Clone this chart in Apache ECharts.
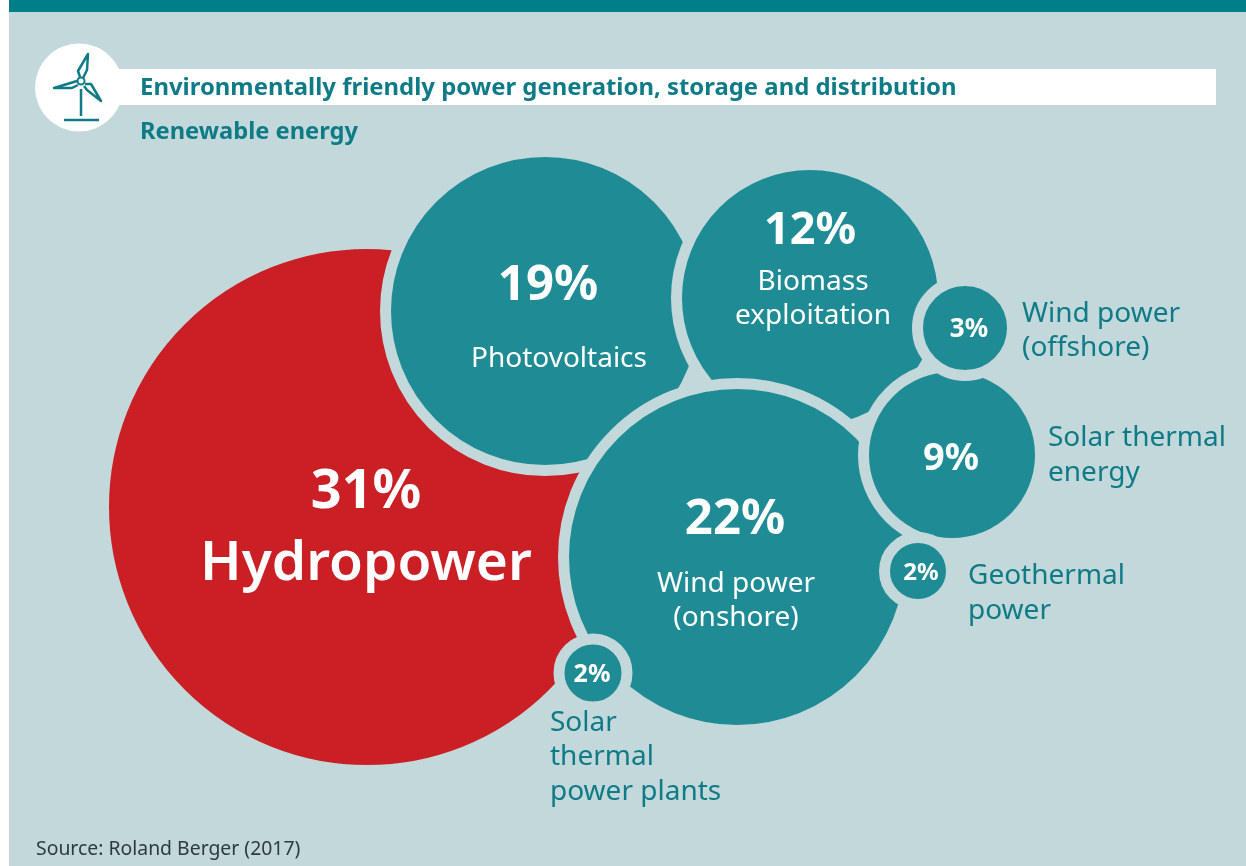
<!DOCTYPE html>
<html><head><meta charset="utf-8">
<style>html,body{margin:0;padding:0;background:#fff}#c{width:1246px;height:866px}</style>
<script src="https://cdn.jsdelivr.net/npm/echarts@6/dist/echarts.min.js"></script>
</head><body><div id="c"></div>
<script>
// ---- data ----
const names = ['Hydropower','Photovoltaics','Biomass exploitation','Wind power (onshore)','Solar thermal energy','Wind power (offshore)','Geothermal power','Solar thermal power plants'];
const shares = [31,19,12,22,9,3,2,2];
const bubbleX = [367,545,810,737,952,965,918,593];
const bubbleY = [507,311,298,557,455,328,571,673];
const bubbleRadius = [258,154,128,168,83,42,28,28.5];
const title = 'Environmentally friendly power generation, storage and distribution';
const subtitle = 'Renewable energy';
const source = 'Source: Roland Berger (2017)';
// ---- text annotations: [x, y, text, kind] ----
const shareTextX = [366,548,810,735,951,969,921,592];
const shareTextY = [493,286,231,520,459,330,573,675];
const nameLines = [
 [366,564,'Hydropower','hero'],
 [559,359,'Photovoltaics','in'],
 [813,282,'Biomass','in'],
 [813,316,'exploitation','in'],
 [736,584,'Wind power','in'],
 [736,618,'(onshore)','in'],
 [1022,314,'Wind power','out'],
 [1022,348,'(offshore)','out'],
 [1048,438,'Solar thermal','out'],
 [1048,473,'energy','out'],
 [968,576,'Geothermal','out'],
 [968,611,'power','out'],
 [550,723,'Solar','out'],
 [550,757,'thermal','out'],
 [550,792,'power plants','out']
];
const RED='#cb1f26', TEAL='#1f8c95', INK='#0f7b87', PANEL='#c3d8da', BAND='#007f8b';
const FONT='"Noto Sans"';
const GAP=11;
const shareSize=[54,49,45,49,38,26,24,25];

const kinds={
 hero:{color:'#fff',fontSize:55,fontWeight:600,align:'center'},
 in:{color:'#fff',fontSize:28,fontWeight:400,align:'center'},
 out:{color:INK,fontSize:28,fontWeight:400,align:'left'}
};
const chart=echarts.init(document.getElementById('c'),null,{renderer:'canvas'});
const teal=INK;
chart.setOption({
 animation:false,
 backgroundColor:'#fff',
 grid:{left:0,right:0,top:0,bottom:0},
 xAxis:{type:'value',min:0,max:1246,show:false},
 yAxis:{type:'value',min:0,max:866,inverse:true,show:false},
 tooltip:{show:false},
 graphic:[
  {type:'rect',z:0,silent:true,shape:{x:9,y:0,width:1237,height:866},style:{fill:PANEL}},
  {type:'rect',z:0,silent:true,shape:{x:9,y:0,width:1237,height:12},style:{fill:BAND}},
  {type:'rect',z:0,silent:true,shape:{x:80,y:69,width:1136,height:36},style:{fill:'#fff'}},
  {type:'circle',z:0,silent:true,shape:{cx:79,cy:87.5,r:44},style:{fill:'#fff'}},
  {type:'group',z:1,silent:true,children:[
   {type:'polyline',shape:{points:[[80,77],[78,71],[88,54],[87,70],[83,78]]},style:{fill:null,stroke:teal,lineWidth:2.5,lineJoin:'round'}},
   {type:'polyline',shape:{points:[[77,81],[54,88],[72,88],[78,85]]},style:{fill:null,stroke:teal,lineWidth:2.5,lineJoin:'round'}},
   {type:'polyline',shape:{points:[[85,84],[91,84],[101,101],[87,90],[84,86]]},style:{fill:null,stroke:teal,lineWidth:2.5,lineJoin:'round'}},
   {type:'circle',shape:{cx:81,cy:81,r:3.5},style:{fill:'#fff',stroke:teal,lineWidth:2}},
   {type:'line',shape:{x1:81,y1:89,x2:81,y2:116},style:{stroke:teal,lineWidth:2.5}},
   {type:'line',shape:{x1:64,y1:120,x2:99,y2:120},style:{stroke:teal,lineWidth:2.5}}
  ]},
  {type:'text',z:3,silent:true,x:140,y:88,style:{text:title,font:'700 23.9px '+FONT,fill:INK,verticalAlign:'middle'}},
  {type:'text',z:3,silent:true,x:140,y:132,style:{text:subtitle,font:'700 23.7px '+FONT,fill:INK,verticalAlign:'middle'}},
  {type:'text',z:3,silent:true,x:36,y:849,style:{text:source,font:'400 19.4px '+FONT,fill:'#2d3a40',verticalAlign:'middle'}}
 ],
 series:[
  {type:'scatter',name:'Renewable energy',silent:true,z:2,
   data:names.map((n,i)=>({name:n,value:[bubbleX[i],bubbleY[i],shares[i]],
     symbolSize:2*bubbleRadius[i]+GAP,
     itemStyle:{color:i===0?RED:TEAL,borderColor:PANEL,borderWidth:GAP,opacity:1}}))},
  {type:'scatter',name:'shares',silent:true,z:3,symbolSize:1,itemStyle:{color:'transparent',opacity:1},
   data:shares.map((s,i)=>({value:[shareTextX[i],shareTextY[i]],
     label:{show:true,opacity:1,position:'inside',formatter:s+'%',color:'#fff',fontFamily:FONT,fontWeight:700,fontSize:shareSize[i],align:'center',verticalAlign:'middle'}}))},
  {type:'scatter',name:'names',silent:true,z:3,symbolSize:1,itemStyle:{color:'transparent',opacity:1},
   data:nameLines.map(l=>({value:[l[0],l[1]],
     label:Object.assign({show:true,opacity:1,position:'inside',formatter:l[2],fontFamily:FONT,verticalAlign:'middle'},kinds[l[3]])}))}
 ]
});
</script></body></html>
